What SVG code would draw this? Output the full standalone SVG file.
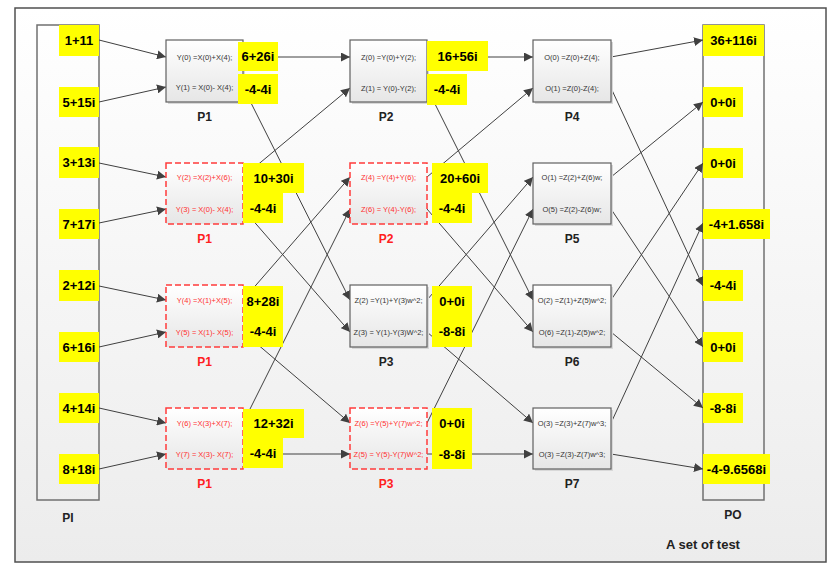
<svg xmlns="http://www.w3.org/2000/svg" width="838" height="573" viewBox="0 0 838 573">
<defs>
<linearGradient id="bg" x1="0" y1="0" x2="0" y2="1"><stop offset="0" stop-color="#ffffff"/><stop offset="1" stop-color="#ececec"/></linearGradient>
<linearGradient id="nf" x1="0" y1="0" x2="0" y2="1"><stop offset="0" stop-color="#ffffff"/><stop offset="1" stop-color="#e6e6e6"/></linearGradient>
<marker id="ah" viewBox="0 0 10 10" refX="10" refY="5" markerWidth="9" markerHeight="9" markerUnits="userSpaceOnUse" orient="auto"><path d="M0,0 L10,5 L0,10 z" fill="#404040"/></marker>
<style>
.frame{fill:url(#bg);stroke:#505050;stroke-width:1.5}
.io{fill:none;stroke:#707070;stroke-width:1.5}
.node{fill:url(#nf);stroke:#606060;stroke-width:1.2}
.rnode{fill:url(#nf);stroke:#ff3b3b;stroke-width:1.5;stroke-dasharray:6,3}
.shadow{fill:#d8d8d8}
.c line{stroke:#404040;stroke-width:1;marker-end:url(#ah)}
.c path{stroke:#404040;stroke-width:1;fill:none}
.y{fill:#ffff00}
.yt{font-family:"Liberation Sans",Arial,sans-serif;font-weight:bold;font-size:13px;fill:#000;text-anchor:middle}
.nt{font-family:"Liberation Sans",Arial,sans-serif;font-size:7.5px;fill:#333;text-anchor:middle}
.rt{font-family:"Liberation Sans",Arial,sans-serif;font-size:7.5px;fill:#ff3030;text-anchor:middle}
.lb{font-family:"Liberation Sans",Arial,sans-serif;font-weight:bold;font-size:12px;fill:#222;text-anchor:middle}
.rlb{font-family:"Liberation Sans",Arial,sans-serif;font-weight:bold;font-size:12px;fill:#ff2020;text-anchor:middle}
</style>
</defs>
<rect x="0" y="0" width="838" height="573" fill="#ffffff"/>
<rect class="frame" x="15" y="8" width="811" height="554"/>

<g id="PI"><rect class="io" x="37" y="25" width="62" height="475"/><text class="lb" x="68" y="522">PI</text></g>
<g id="PO"><rect class="io" x="703" y="25" width="61" height="475"/><text class="lb" x="733" y="519">PO</text></g>

<g id="connectors" class="c">
<line x1="99" y1="40" x2="166" y2="57"/>
<line x1="99" y1="102" x2="166" y2="87"/>
<line x1="99" y1="163" x2="166" y2="177"/>
<line x1="99" y1="223" x2="166" y2="209"/>
<line x1="99" y1="286" x2="166" y2="300"/>
<line x1="99" y1="347" x2="166" y2="332"/>
<line x1="99" y1="408" x2="166" y2="423"/>
<line x1="99" y1="469" x2="166" y2="454"/>

<line x1="243" y1="57" x2="350" y2="57"/>
<line x1="243" y1="87" x2="350" y2="300"/>
<line x1="243" y1="177" x2="350" y2="88"/>
<line x1="243" y1="209" x2="350" y2="332"/>
<line x1="243" y1="300" x2="350" y2="177"/>
<line x1="243" y1="332" x2="350" y2="423"/>
<line x1="243" y1="423" x2="350" y2="209"/>
<line x1="243" y1="454" x2="350" y2="454"/>

<line x1="427" y1="57" x2="533" y2="57"/>
<line x1="427" y1="88" x2="533" y2="300"/>
<line x1="427" y1="177" x2="533" y2="88"/>
<line x1="427" y1="209" x2="533" y2="332"/>
<line x1="427" y1="300" x2="533" y2="177"/>
<line x1="427" y1="332" x2="533" y2="423"/>
<line x1="427" y1="423" x2="533" y2="209"/>
<line x1="427" y1="454" x2="533" y2="454"/>

<line x1="611" y1="57" x2="703" y2="40"/>
<line x1="611" y1="88" x2="703" y2="286"/>
<line x1="611" y1="177" x2="703" y2="102"/>
<line x1="611" y1="209" x2="703" y2="347"/>
<line x1="611" y1="300" x2="703" y2="163"/>
<line x1="611" y1="332" x2="703" y2="408"/>
<line x1="611" y1="423" x2="703" y2="223"/>
<line x1="611" y1="454" x2="703" y2="469"/>
</g>

<g id="P1a"><rect class="shadow" x="168" y="42" width="77" height="62"/><rect class="node" x="166" y="40" width="77" height="62"/>
<text class="nt" x="204.5" y="59.5">Y(0) =X(0)+X(4);</text><text class="nt" x="204.5" y="89.5">Y(1) = X(0)- X(4);</text>
<text class="lb" x="204.5" y="121">P1</text></g>
<g id="P1b"><rect class="rnode" x="166" y="163" width="77" height="61"/>
<text class="rt" x="204.5" y="179.5">Y(2) =X(2)+X(6);</text><text class="rt" x="204.5" y="211.5">Y(3) = X(0)- X(4);</text>
<text class="rlb" x="204.5" y="243">P1</text></g>
<g id="P1c"><rect class="rnode" x="166" y="285" width="77" height="62"/>
<text class="rt" x="204.5" y="302.5">Y(4) =X(1)+X(5);</text><text class="rt" x="204.5" y="334.5">Y(5) = X(1)- X(5);</text>
<text class="rlb" x="204.5" y="366">P1</text></g>
<g id="P1d"><rect class="rnode" x="166" y="408" width="77" height="61"/>
<text class="rt" x="204.5" y="425.5">Y(6) =X(3)+X(7);</text><text class="rt" x="204.5" y="456.5">Y(7) = X(3)- X(7);</text>
<text class="rlb" x="204.5" y="488">P1</text></g>

<g id="P2a"><rect class="shadow" x="352" y="42" width="77" height="62"/><rect class="node" x="350" y="40" width="77" height="62"/>
<text class="nt" x="388.5" y="59.5">Z(0) =Y(0)+Y(2);</text><text class="nt" x="388.5" y="90.5">Z(1) = Y(0)-Y(2);</text>
<text class="lb" x="386" y="121">P2</text></g>
<g id="P2b"><rect class="rnode" x="350" y="163" width="77" height="61"/>
<text class="rt" x="388.5" y="179.5">Z(4) =Y(4)+Y(6);</text><text class="rt" x="388.5" y="211.5">Z(6) = Y(4)-Y(6);</text>
<text class="rlb" x="386" y="243">P2</text></g>
<g id="P3a"><rect class="shadow" x="352" y="287" width="77" height="62"/><rect class="node" x="350" y="285" width="77" height="62"/>
<text class="nt" x="388.5" y="302.5">Z(2) =Y(1)+Y(3)w^2;</text><text class="nt" x="388.5" y="334.5">Z(3) = Y(1)-Y(3)W^2;</text>
<text class="lb" x="386" y="366">P3</text></g>
<g id="P3b"><rect class="rnode" x="350" y="408" width="77" height="61"/>
<text class="rt" x="388.5" y="425.5">Z(6) =Y(5)+Y(7)w^2;</text><text class="rt" x="388.5" y="456.5">Z(5) = Y(5)-Y(7)W^2;</text>
<text class="rlb" x="386" y="488">P3</text></g>

<g id="P4"><rect class="shadow" x="535" y="42" width="78" height="62"/><rect class="node" x="533" y="40" width="78" height="62"/>
<text class="nt" x="572" y="59.5">O(0) =Z(0)+Z(4);</text><text class="nt" x="572" y="90.5">O(1) =Z(0)-Z(4);</text>
<text class="lb" x="572" y="121">P4</text></g>
<g id="P5"><rect class="shadow" x="535" y="165" width="78" height="61"/><rect class="node" x="533" y="163" width="78" height="61"/>
<text class="nt" x="572" y="179.5">O(1) =Z(2)+Z(6)w;</text><text class="nt" x="572" y="211.5">O(5) =Z(2)-Z(6)w;</text>
<text class="lb" x="572" y="243">P5</text></g>
<g id="P6"><rect class="shadow" x="535" y="287" width="78" height="62"/><rect class="node" x="533" y="285" width="78" height="62"/>
<text class="nt" x="572" y="302.5">O(2) =Z(1)+Z(5)w^2;</text><text class="nt" x="572" y="334.5">O(6) =Z(1)-Z(5)w^2;</text>
<text class="lb" x="572" y="366">P6</text></g>
<g id="P7"><rect class="shadow" x="535" y="410" width="78" height="61"/><rect class="node" x="533" y="408" width="78" height="61"/>
<text class="nt" x="572" y="425.5">O(3) =Z(3)+Z(7)w^3;</text><text class="nt" x="572" y="456.5">O(3) =Z(3)-Z(7)w^3;</text>
<text class="lb" x="572" y="488">P7</text></g>

<g id="values">
<rect class="y" x="59" y="25" width="40" height="31"/><text class="yt" x="79" y="45">1+11</text>
<rect class="y" x="59" y="87" width="40" height="30"/><text class="yt" x="79" y="106.5">5+15i</text>
<rect class="y" x="59" y="147" width="40" height="31"/><text class="yt" x="79" y="167">3+13i</text>
<rect class="y" x="59" y="209" width="40" height="30"/><text class="yt" x="79" y="228.5">7+17i</text>
<rect class="y" x="59" y="270" width="40" height="31"/><text class="yt" x="79" y="290">2+12i</text>
<rect class="y" x="59" y="332" width="40" height="30"/><text class="yt" x="79" y="351.5">6+16i</text>
<rect class="y" x="59" y="393" width="40" height="30"/><text class="yt" x="79" y="412.5">4+14i</text>
<rect class="y" x="59" y="454" width="40" height="30"/><text class="yt" x="79" y="473.5">8+18i</text>

<rect class="y" x="238" y="42" width="40" height="29"/><text class="yt" x="258" y="61">6+26i</text>
<rect class="y" x="238" y="74" width="40" height="30"/><text class="yt" x="258" y="93.5">-4-4i</text>
<rect class="y" x="243" y="163" width="61" height="30"/><text class="yt" x="273.5" y="182.5">10+30i</text>
<rect class="y" x="243" y="193" width="40" height="30"/><text class="yt" x="263" y="212.5">-4-4i</text>
<rect class="y" x="243" y="286" width="40" height="30"/><text class="yt" x="263" y="305.5">8+28i</text>
<rect class="y" x="243" y="316" width="40" height="31"/><text class="yt" x="263" y="336">-4-4i</text>
<rect class="y" x="243" y="409" width="61" height="29"/><text class="yt" x="273.5" y="428">12+32i</text>
<rect class="y" x="243" y="438" width="40" height="30"/><text class="yt" x="263" y="457.5">-4-4i</text>

<rect class="y" x="427" y="41" width="61" height="30"/><text class="yt" x="457.5" y="60.5">16+56i</text>
<rect class="y" x="427" y="74" width="40" height="31"/><text class="yt" x="447" y="94">-4-4i</text>
<rect class="y" x="432" y="163" width="56" height="30"/><text class="yt" x="460" y="182.5">20+60i</text>
<rect class="y" x="432" y="193" width="40" height="30"/><text class="yt" x="452" y="212.5">-4-4i</text>
<rect class="y" x="432" y="286" width="40" height="30"/><text class="yt" x="452" y="305.5">0+0i</text>
<rect class="y" x="432" y="316" width="40" height="31"/><text class="yt" x="452" y="336">-8-8i</text>
<rect class="y" x="432" y="408" width="40" height="61"/><text class="yt" x="452" y="427.5">0+0i</text><text class="yt" x="452" y="458.5">-8-8i</text>

<rect class="y" x="703" y="25" width="61" height="31"/><text class="yt" x="733.5" y="45">36+116i</text>
<rect class="y" x="703" y="87" width="40" height="30"/><text class="yt" x="723" y="106.5">0+0i</text>
<rect class="y" x="703" y="148" width="40" height="30"/><text class="yt" x="723" y="167.5">0+0i</text>
<rect class="y" x="703" y="209" width="67" height="30"/><text class="yt" x="736.5" y="228.5">-4+1.658i</text>
<rect class="y" x="703" y="270" width="40" height="31"/><text class="yt" x="723" y="290">-4-4i</text>
<rect class="y" x="703" y="332" width="40" height="30"/><text class="yt" x="723" y="351.5">0+0i</text>
<rect class="y" x="703" y="393" width="40" height="30"/><text class="yt" x="723" y="412.5">-8-8i</text>
<rect class="y" x="703" y="454" width="67" height="30"/><text class="yt" x="736.5" y="473.5">-4-9.6568i</text>
</g>

<text class="lb" x="703" y="549" style="font-size:13px">A set of test</text>
</svg>
